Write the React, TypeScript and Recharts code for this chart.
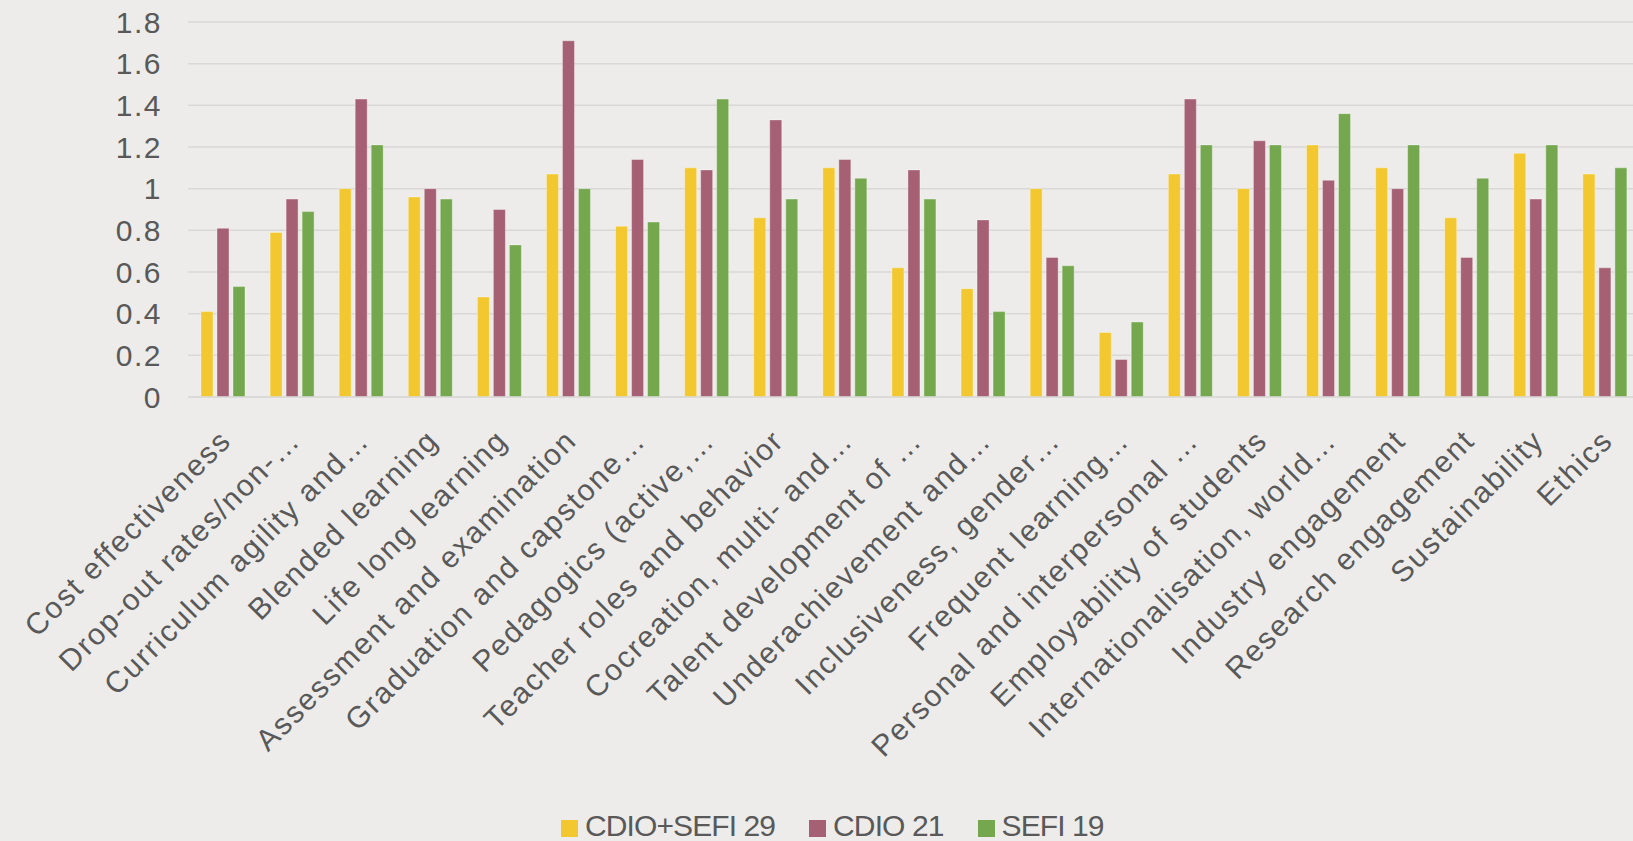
import React from "react";
import { BarChart, Bar, XAxis, YAxis, CartesianGrid, Legend } from "recharts";

const categories = [
  "Cost effectiveness",
  "Drop-out rates/non-…",
  "Curriculum agility and…",
  "Blended learning",
  "Life long learning",
  "Assessment and examination",
  "Graduation and capstone…",
  "Pedagogics (active,…",
  "Teacher roles and behavior",
  "Cocreation, multi- and…",
  "Talent development of …",
  "Underachievement and…",
  "Inclusiveness, gender…",
  "Frequent learning…",
  "Personal and interpersonal …",
  "Employability of students",
  "Internationalisation, world…",
  "Industry engagement",
  "Research engagement",
  "Sustainability",
  "Ethics",
];

const cdioSefi29 = [0.41, 0.79, 1.0, 0.96, 0.48, 1.07, 0.82, 1.1, 0.86, 1.1, 0.62, 0.52, 1.0, 0.31, 1.07, 1.0, 1.21, 1.1, 0.86, 1.17, 1.07];
const cdio21 = [0.81, 0.95, 1.43, 1.0, 0.9, 1.71, 1.14, 1.09, 1.33, 1.14, 1.09, 0.85, 0.67, 0.18, 1.43, 1.23, 1.04, 1.0, 0.67, 0.95, 0.62];
const sefi19 = [0.53, 0.89, 1.21, 0.95, 0.73, 1.0, 0.84, 1.43, 0.95, 1.05, 0.95, 0.41, 0.63, 0.36, 1.21, 1.21, 1.36, 1.21, 1.05, 1.21, 1.1];

const yTicks = [0, 0.2, 0.4, 0.6, 0.8, 1, 1.2, 1.4, 1.6, 1.8];

const series = [
  { key: "cdioSefi", name: "CDIO+SEFI 29", color: "#F2C72F" },
  { key: "cdio", name: "CDIO 21", color: "#A56074" },
  { key: "sefi", name: "SEFI 19", color: "#75A84E" },
];

const data = categories.map((name, i) => ({
  name,
  cdioSefi: cdioSefi29[i],
  cdio: cdio21[i],
  sefi: sefi19[i],
}));

const FONT = "'Liberation Sans', Arial, sans-serif";
const TEXT = "#595959";

// rotated category label, right end hangs just below the axis
function CategoryTick(props: any) {
  const { x, y, payload } = props;
  return (
    <text
      transform={`translate(${x - 5},${y + 30}) rotate(-45)`}
      textAnchor="end"
      dy="0.72em"
      fill={TEXT}
      fontSize={30}
      letterSpacing={1.8}
      fontFamily={FONT}
    >
      {payload.value}
    </text>
  );
}

function LegendBox() {
  return (
    <div style={{ display: "flex", alignItems: "center", gap: 34, height: 0, overflow: "visible" }}>
      {series.map((s) => (
        <div key={s.key} style={{ display: "flex", alignItems: "center", height: 30 }}>
          <span style={{ width: 17, height: 17, background: s.color, marginRight: 7, marginTop: 4 }} />
          <span
            style={{
              fontSize: 30,
              lineHeight: "30px",
              letterSpacing: -0.9,
              color: TEXT,
              fontFamily: FONT,
              whiteSpace: "nowrap",
            }}
          >
            {s.name}
          </span>
        </div>
      ))}
    </div>
  );
}

export default function App() {
  return (
    <div
      style={{
        position: "fixed",
        left: 0,
        top: 0,
        width: 1633,
        height: 841,
        overflow: "hidden",
        background: "#EDECEA",
      }}
    >
      <BarChart
        width={1639}
        height={841}
        data={data}
        margin={{ top: 22, right: 0, left: 0, bottom: 64 }}
        barSize={12}
        barGap={4}
      >
        <CartesianGrid vertical={false} stroke="#D9D8D6" strokeWidth={1.5} />
        <XAxis
          dataKey="name"
          interval={0}
          height={380}
          tickLine={false}
          tickSize={0}
          tickMargin={0}
          axisLine={{ stroke: "#D9D8D6", strokeWidth: 1.5 }}
          tick={<CategoryTick />}
        />
        <YAxis
          width={188}
          domain={[0, 1.8]}
          ticks={yTicks}
          axisLine={false}
          tickLine={false}
          tickSize={0}
          tickMargin={26}
          tick={{ fill: TEXT, fontSize: 30, fontFamily: FONT, letterSpacing: 1.5 }}
        />
        <Legend
          content={<LegendBox />}
          wrapperStyle={{ position: "absolute", left: 561, top: 826, width: 700, height: 0 }}
        />
        {series.map((s) => (
          <Bar
            key={s.key}
            dataKey={s.key}
            name={s.name}
            fill={s.color}
            stroke="rgba(255,255,255,0.35)"
            strokeWidth={1}
            isAnimationActive={false}
          />
        ))}
      </BarChart>
    </div>
  );
}
